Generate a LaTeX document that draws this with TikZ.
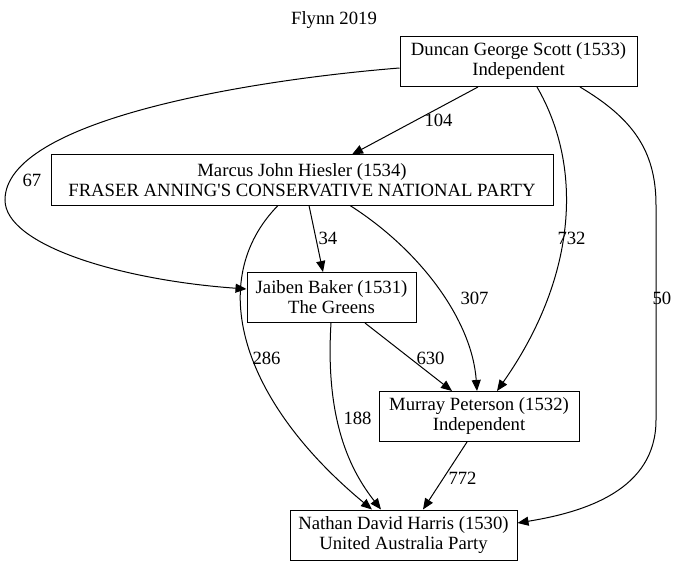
\documentclass[tikz,border=0pt]{standalone}
\usepackage{fontspec}
\setmainfont{Liberation Serif}
\usetikzlibrary{arrows.meta}

\begin{document}
\begin{tikzpicture}[x=1pt, y=-1pt,
    partynode/.style={draw, line width=1pt, align=center, inner sep=0pt, minimum height=50pt, font=\fontsize{18.7}{20}\selectfont},
    vote/.style={-{Triangle[length=11pt, width=9pt]}, line width=1pt},
    lbl/.style={anchor=west, inner sep=0pt, font=\fontsize{18.7}{20}\selectfont},]
    \useasboundingbox (0,0) rectangle (675,567);
    % nodes
    \node[font=\fontsize{18.7}{20}\selectfont] (title) at (334,20) {Flynn 2019};
    \node[partynode, minimum width=237pt] (scott)    at (518.5,61.5) {Duncan George Scott (1533)\\Independent};
    \node[partynode, minimum width=502pt] (hiesler)  at (302,180)    {Marcus John Hiesler (1534)\\FRASER ANNING\textquotesingle S CONSERVATIVE NATIONAL PARTY};
    \node[partynode, minimum width=169pt] (baker)    at (331.5,297.5) {Jaiben Baker (1531)\\The Greens};
    \node[partynode, minimum width=200pt] (peterson) at (479,416.5)  {Murray Peterson (1532)\\Independent};
    \node[partynode, minimum width=227pt] (harris)   at (403.5,535)  {Nathan David Harris (1530)\\United Australia Party};
    % lines
    \draw[vote] ([xshift=-40.5pt]scott.south) -- ([xshift=50pt]hiesler.north) node[lbl] at (424,120) {104};
    \draw[vote] ([yshift=-6.5pt]scott.west) .. controls (250,80) and (5,120) .. (5,200)
        .. controls (5,245) and (120,280) .. ([yshift=8.5pt]baker.west) node[lbl] at (22,180) {67};
    \draw[vote] ([xshift=18.5pt]scott.south) .. controls (585,170) and (575,280) .. ([xshift=18pt]peterson.north) node[lbl] at (557,238) {732};
    \draw[vote] ([xshift=61.5pt]scott.south) .. controls (632,118) and (656,150) .. (656,205) -- (656,420)
        .. controls (656,490) and (585,512) .. ([yshift=12pt]harris.east) node[lbl] at (652,298) {50};
    \draw[vote] ([xshift=7pt]hiesler.south) -- ([xshift=-8.5pt]baker.north) node[lbl] at (318,238) {34};
    \draw[vote] ([xshift=-24pt]hiesler.south) .. controls (205,280) and (240,400) .. ([xshift=-31.5pt]harris.north) node[lbl] at (252,358) {286};
    \draw[vote] ([xshift=48pt]hiesler.south) .. controls (420,250) and (472,320) .. ([xshift=-2pt]peterson.north) node[lbl] at (460,298) {307};
    \draw[vote] ([xshift=33.5pt]baker.south) -- ([xshift=-27pt]peterson.north) node[lbl] at (416,358) {630};
    \draw[vote] ([xshift=-0.5pt]baker.south) .. controls (325,420) and (350,470) .. ([xshift=-22.5pt]harris.north) node[lbl] at (343,418) {188};
    \draw[vote] ([xshift=-12pt]peterson.south) -- ([xshift=19.5pt]harris.north) node[lbl] at (448,478) {772};
\end{tikzpicture}
\end{document}
